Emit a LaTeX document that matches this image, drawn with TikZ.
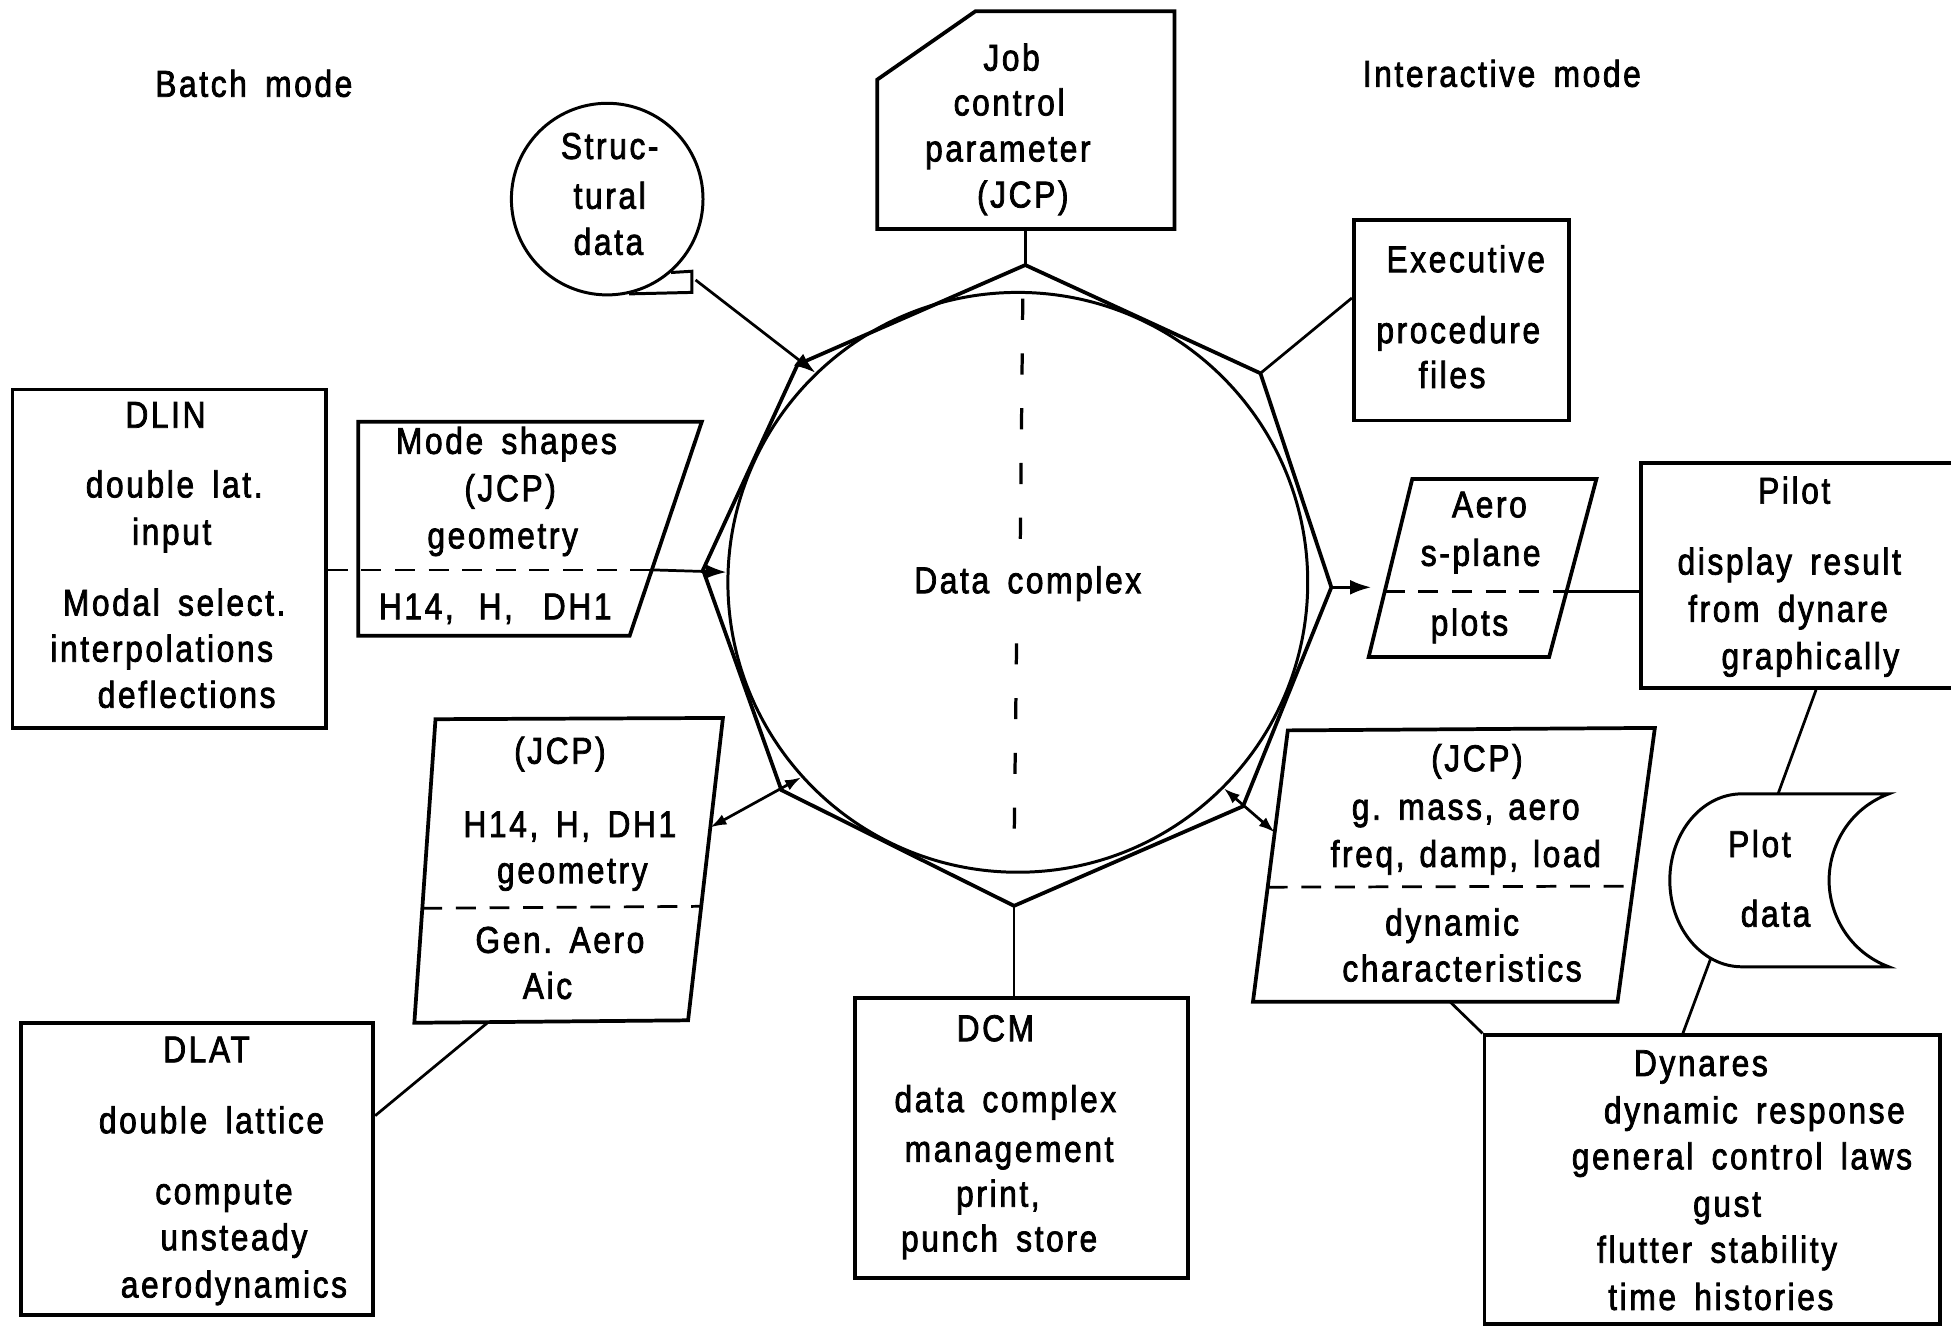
\documentclass[tikz,border=0pt]{standalone}
\usepackage{fontspec}
\setmainfont{Liberation Sans}[FakeStretch=0.85,LetterSpace=7,WordSpace=1.6,FakeBold=2]
\usetikzlibrary{arrows.meta,calc}
\newcommand\mylbl[3]{\node[txt] (#1) at (#2) {#3};}
\begin{document}
\begin{tikzpicture}[x=1pt,y=-1pt,
  box/.style={draw,line width=3pt,rectangle,inner sep=0pt},
  shp/.style={draw,line width=3pt,line join=miter},
  ring/.style={draw,circle,line width=2.4pt,inner sep=0pt},
  conn/.style={line width=2.2pt},
  arr/.style={conn,-{Latex[length=17pt,width=12pt]}},
  darr/.style={conn,{Latex[length=13pt,width=9pt]}-{Latex[length=13pt,width=9pt]}},
  sep/.style={line width=2.2pt,dash pattern=on 16pt off 11pt},
  vsep/.style={line width=2.6pt,dash pattern=on 17pt off 27pt},
  txt/.style={inner sep=0pt,font=\fontsize{30}{37}\selectfont,text height=22pt,text depth=6.5pt}]
\clip (0,0) rectangle (1568,1066);

% ---------- rectangles ----------
\node[box,minimum width=252pt,minimum height=272pt] (dlin) at (136,449) {};
\node[box,minimum width=173pt,minimum height=161pt] (exec) at (1174.5,257.5) {};
\node[box,minimum width=300pt,minimum height=181pt] (pilot) at (1469,462.5) {};
\node[box,minimum width=283pt,minimum height=235pt] (dlat) at (158.5,939.5) {};
\node[box,minimum width=268pt,minimum height=225pt] (dcm) at (821,914.5) {};
\node[box,minimum width=366pt,minimum height=232pt] (dynares) at (1376,948) {};

% ---------- circles ----------
\node[ring,minimum size=154pt] (sd) at (488,160) {};
\node[ring,minimum size=466pt] (dc) at (818,468) {};

% ---------- polygon corners ----------
\coordinate (job-a) at (705,64);  \coordinate (job-b) at (784,9);
\coordinate (job-c) at (944,9);   \coordinate (job-d) at (944,184);
\coordinate (job-e) at (705,184); \coordinate (job-out) at (824,184);

\coordinate (o1) at (824,213);  \coordinate (o2) at (1013,300);
\coordinate (o3) at (1070,472); \coordinate (o4) at (999,648);
\coordinate (o5) at (815,728);  \coordinate (o6) at (628,635);
\coordinate (o7) at (565,458);  \coordinate (o8) at (641,293);

\coordinate (ms-a) at (288,339); \coordinate (ms-b) at (564,339);
\coordinate (ms-c) at (506,511); \coordinate (ms-d) at (288,511);
\coordinate (ms-r) at (524,458);

\coordinate (ae-a) at (1135,385); \coordinate (ae-b) at (1283,385);
\coordinate (ae-c) at (1245,528); \coordinate (ae-d) at (1100,528);
\coordinate (ae-l) at ($(ae-a)!0.63!(ae-d)$);
\coordinate (ae-r) at ($(ae-b)!0.63!(ae-c)$);
\coordinate (ae-in) at (1102,472);

\coordinate (jl-a) at (350,578); \coordinate (jl-b) at (581,577);
\coordinate (jl-c) at (553,820); \coordinate (jl-d) at (333,822);
\coordinate (jl-l) at ($(jl-a)!0.623!(jl-d)$);
\coordinate (jl-r) at ($(jl-b)!0.623!(jl-c)$);
\coordinate (jl-in) at ($(jl-b)!0.362!(jl-c)$);
\coordinate (jl-out) at ($(jl-d)!0.27!(jl-c)$);

\coordinate (jr-a) at (1035,587); \coordinate (jr-b) at (1330,585);
\coordinate (jr-c) at (1300,805); \coordinate (jr-d) at (1007,805);
\coordinate (jr-l) at ($(jr-a)!0.578!(jr-d)$);
\coordinate (jr-r) at ($(jr-b)!0.578!(jr-c)$);
\coordinate (jr-in) at ($(jr-a)!0.376!(jr-d)$);
\coordinate (jr-out) at ($(jr-d)!0.54!(jr-c)$);

\coordinate (pd-a) at (1400,638); \coordinate (pd-b) at (1518,638);
\coordinate (pd-c) at (1518,777); \coordinate (pd-d) at (1400,777);
\coordinate (pd-in) at (1429,638); \coordinate (pd-out) at (1375,770);

\coordinate (tab-r1) at (556,218); \coordinate (tab-r2) at (556,235);
\coordinate (tab-out) at (559,225);
\coordinate (exec-in) at ($(exec.north west)!0.39!(exec.south west)$);
\coordinate (pi-out) at ($(pilot.south west)+(142,0)$);
\coordinate (dy-in) at ($(dynares.north west)+(161,0)$);
\coordinate (dlat-in) at ($(dlat.north east)!0.32!(dlat.south east)$);
\coordinate (dl-1) at (822,240); \coordinate (dl-2) at (820,436);
\coordinate (dl-3) at (817,517); \coordinate (dl-4) at (815,682);

% ---------- shapes ----------
\draw[shp] (job-a) -- (job-b) -- (job-c) -- (job-d) -- (job-e) -- cycle;
\draw[shp] (o1) -- (o2) -- (o3) -- (o4) -- (o5) -- (o6) -- (o7) -- (o8) -- cycle;
\draw[shp] (ms-a) -- (ms-b) -- (ms-c) -- (ms-d) -- cycle;
\draw[shp] (ae-a) -- (ae-b) -- (ae-c) -- (ae-d) -- cycle;
\draw[shp] (jl-a) -- (jl-b) -- (jl-c) -- (jl-d) -- cycle;
\draw[shp] (jr-a) -- (jr-b) -- (jr-c) -- (jr-d) -- cycle;
\draw[shp,line width=2.4pt] (pd-d) .. controls (1368,777) and (1342,746) .. (1342,707.5)
   .. controls (1342,669) and (1368,638) .. (pd-a) -- (pd-b)
   .. controls (1486,650) and (1470,680) .. (1470,707.5)
   .. controls (1470,735) and (1486,765) .. (pd-c) -- cycle;
\draw[line width=2.4pt] (sd.-49) -- (tab-r1) -- (tab-r2) -- (sd.-77);

% separators
\draw[vsep] (dl-1) -- (dl-2);
\draw[vsep] (dl-3) -- (dl-4);
\draw[sep] (dlin.east |- ms-r) -- (ms-r);
\draw[sep] (ae-l) -- (ae-r);
\draw[sep] (jl-l) -- (jl-r);
\draw[sep] (jr-l) -- (jr-r);

% ---------- connectors ----------
\draw[arr] (tab-out) -- (dc.134);
\draw[conn] (job-out) -- (o1);
\draw[conn] (o2) -- (exec-in);
\draw[arr] (ms-r) -- (dc.178);
\draw[arr] (o3) -- (ae-in);
\draw[conn] (ae-r) -- (pilot.west |- ae-r);
\draw[conn] (pi-out) -- (pd-in);
\draw[conn] (pd-out) -- (dy-in);
\draw[conn] (jr-out) -- (dynares.north west);
\draw[darr] (dc.-45) -- (jr-in);
\draw[conn] (o5) -- (o5 |- dcm.north);
\draw[darr] (dc.222) -- (jl-in);
\draw[conn] (jl-out) -- (dlat-in);

% ---------- texts ----------
\mylbl{batch}{204,70}{Batch mode}
\mylbl{inter}{1207,62}{Interactive mode}
\mylbl{sd1}{490,120}{Struc-}
\mylbl{sd2}{490,160}{tural}
\mylbl{sd3}{489,197}{data}
\mylbl{job1}{813,49}{Job}
\mylbl{job2}{811,85}{control}
\mylbl{job3}{810,122}{parameter}
\mylbl{job4}{822,159}{(JCP)}
\mylbl{ex1}{1178,211}{Executive}
\mylbl{ex2}{1172,268}{procedure}
\mylbl{ex3}{1167,304}{files}
\mylbl{dl1}{133,336}{DLIN}
\mylbl{dl2}{140,392}{double lat.}
\mylbl{dl3}{138,430}{input}
\mylbl{dl4}{140,487}{Modal select.}
\mylbl{dl5}{130,524}{interpolations}
\mylbl{dl6}{150,561}{deflections}
\mylbl{ms1}{407,357}{Mode shapes}
\mylbl{ms2}{410,395}{(JCP)}
\mylbl{ms3}{404,433}{geometry}
\mylbl{ms4}{398,490}{H14,\hspace{20pt}H,\hspace{24pt}DH1}
\mylbl{dctx}{826,469}{Data complex}
\mylbl{ae1}{1197,408}{Aero}
\mylbl{ae2}{1190,447}{s-plane}
\mylbl{ae3}{1181,503}{plots}
\mylbl{pi1}{1442,397}{Pilot}
\mylbl{pi2}{1438,454}{display result}
\mylbl{pi3}{1437,492}{from dynare}
\mylbl{pi4}{1455,530}{graphically}
\mylbl{jl1}{450,606}{(JCP)}
\mylbl{jl2}{458,665}{H14,\hspace{14pt}H,\hspace{14pt}DH1}
\mylbl{jl3}{460,702}{geometry}
\mylbl{jl4}{450,758}{Gen.\hspace{14pt}Aero}
\mylbl{jl5}{440,795}{Aic}
\mylbl{pd1}{1414,681}{Plot}
\mylbl{pd2}{1427,737}{data}
\mylbl{jr1}{1187,612}{(JCP)}
\mylbl{jr2}{1178,651}{g.\hspace{14pt}mass,\hspace{12pt}aero}
\mylbl{jr3}{1178,689}{freq,\hspace{12pt}damp,\hspace{12pt}load}
\mylbl{jr4}{1167,744}{dynamic}
\mylbl{jr5}{1175,781}{characteristics}
\mylbl{da1}{166,846}{DLAT}
\mylbl{da2}{170,903}{double lattice}
\mylbl{da3}{180,960}{compute}
\mylbl{da4}{188,997}{unsteady}
\mylbl{da5}{188,1035}{aerodynamics}
\mylbl{dm1}{800,829}{DCM}
\mylbl{dm2}{808,886}{data complex}
\mylbl{dm3}{811,926}{management}
\mylbl{dm4}{802,962}{print,}
\mylbl{dm5}{803,998}{punch store}
\mylbl{dy1}{1367,857}{Dynares}
\mylbl{dy2}{1410,895}{dynamic response}
\mylbl{dy3}{1400,932}{general control laws}
\mylbl{dy4}{1388,970}{gust}
\mylbl{dy5}{1380,1007}{flutter stability}
\mylbl{dy6}{1383,1045}{time histories}
\end{tikzpicture}
\end{document}
